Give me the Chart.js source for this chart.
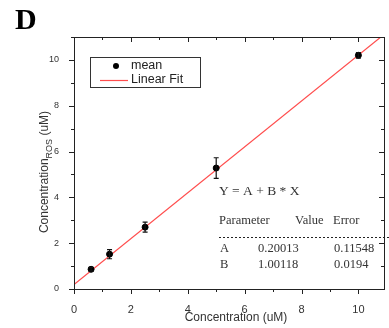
<!DOCTYPE html>
<html>
<head>
<meta charset="utf-8">
<script src="https://cdn.jsdelivr.net/npm/chart.js@4/dist/chart.umd.min.js"></script>
<style>
  html, body { margin: 0; padding: 0; background: #fff; }
  #wrap { width: 389px; height: 328px; position: relative; }
</style>
</head>
<body>
<div id="wrap"><canvas id="c"></canvas></div>
<script>
/* calibration data */
const concX = [0.6, 1.25, 2.5, 5.0, 10.0];
const concMeasured = [0.86, 1.52, 2.7, 5.28, 10.2];
const concErr = [0.08, 0.2, 0.22, 0.45, 0.12];

// linear fit line, end points
const fitX = [0, 10.9];
const fitY = [0.2, 11.11];

const xTickLabels = ['0', '2', '4', '6', '8', '10'];
const yTickLabels = ['0', '2', '4', '6', '8', '10'];

const fitParams = [
  ['A', '0.20013', '0.11548'],
  ['B', '1.00118', '0.0194'],
];

const SANS = '"Liberation Sans", Arial, sans-serif';
const SERIF = '"Liberation Serif", "Times New Roman", serif';
const RED = '#ff4d4d';

/* ---- Plugin: frame, ticks, error bars, legend, annotations ---- */
const panelPlugin = {
  id: 'panel',
  afterDatasetsDraw(chart) {
    const { ctx, chartArea: a, scales } = chart;
    const xs = scales.x, ys = scales.y;
    ctx.save();

    // error bars
    ctx.strokeStyle = '#111';
    ctx.lineWidth = 1.2;
    concX.forEach((x, i) => {
      const px = xs.getPixelForValue(x);
      const top = ys.getPixelForValue(concMeasured[i] + concErr[i]);
      const bot = ys.getPixelForValue(concMeasured[i] - concErr[i]);
      ctx.beginPath();
      ctx.moveTo(px, top); ctx.lineTo(px, bot);
      ctx.moveTo(px - 2.5, top); ctx.lineTo(px + 2.5, top);
      ctx.moveTo(px - 2.5, bot); ctx.lineTo(px + 2.5, bot);
      ctx.stroke();
    });

    // frame
    ctx.strokeStyle = '#222';
    ctx.lineWidth = 1;
    ctx.strokeRect(a.left + 0.5, a.top + 0.5, a.right - a.left, a.bottom - a.top);

    // ticks
    ctx.beginPath();
    for (let v = 0; v <= 11; v++) {
      const major = v % 2 === 0;
      const px = Math.round(xs.getPixelForValue(v)) + 0.5;
      if (px <= a.right) {
        ctx.moveTo(px, a.bottom); ctx.lineTo(px, a.bottom + (major ? 5 : 3));
        ctx.moveTo(px, a.top); ctx.lineTo(px, a.top + (major ? 5 : 3));
      }
      const py = Math.round(ys.getPixelForValue(v)) + 0.5;
      if (py >= a.top) {
        ctx.moveTo(a.left, py); ctx.lineTo(a.left - (major ? 5 : 3), py);
        ctx.moveTo(a.right, py); ctx.lineTo(a.right - (major ? 5 : 3), py);
      }
    }
    ctx.stroke();

    // legend
    ctx.strokeStyle = '#333';
    ctx.strokeRect(90.5, 57.5, 110, 30);
    ctx.fillStyle = '#000';
    ctx.beginPath(); ctx.arc(116, 66, 3, 0, Math.PI * 2); ctx.fill();
    ctx.strokeStyle = RED; ctx.lineWidth = 1.2;
    ctx.beginPath(); ctx.moveTo(100, 80.5); ctx.lineTo(128, 80.5); ctx.stroke();
    ctx.fillStyle = '#222';
    ctx.font = '12.5px ' + SANS;
    ctx.textBaseline = 'middle';
    ctx.textAlign = 'left';
    ctx.fillText('mean', 131, 66);
    ctx.fillText('Linear Fit', 131, 80);

    // fit annotation
    ctx.fillStyle = '#333';
    ctx.font = '13.5px ' + SERIF;
    ctx.fillText('Y = A + B * X', 219, 191);
    ctx.font = '12.5px ' + SERIF;
    ctx.fillText('Parameter', 219, 221);
    ctx.fillText('Value', 295, 221);
    ctx.fillText('Error', 333, 221);
    ctx.strokeStyle = '#222'; ctx.lineWidth = 1;
    ctx.setLineDash([2, 2]);
    ctx.beginPath(); ctx.moveTo(219, 237.5); ctx.lineTo(389, 237.5); ctx.stroke();
    ctx.setLineDash([]);
    fitParams.forEach((row, i) => {
      const y = 249 + i * 16;
      ctx.fillText(row[0], 220, y);
      ctx.fillText(row[1], 258, y);
      ctx.fillText(row[2], 334, y);
    });

    // panel letter
    ctx.fillStyle = '#000';
    ctx.font = 'bold 30px ' + SERIF;
    ctx.fillText('D', 15, 21);

    // axis titles
    ctx.fillStyle = '#333';
    ctx.font = '12px ' + SANS;
    ctx.textAlign = 'center';
    ctx.fillText('Concentration (uM)', (a.left + a.right) / 2 + 7, 318);

    ctx.translate(45, 172);
    ctx.rotate(-Math.PI / 2);
    const main = 'Concentration', sub = 'ROS', tail = ' (uM)';
    ctx.font = '12px ' + SANS;
    const w1 = ctx.measureText(main).width, w3 = ctx.measureText(tail).width;
    ctx.font = '9px ' + SANS;
    const w2 = ctx.measureText(sub).width;
    let x0 = -(w1 + w2 + w3) / 2;
    ctx.textAlign = 'left';
    ctx.font = '12px ' + SANS;
    ctx.fillText(main, x0, 0);
    ctx.font = '9px ' + SANS;
    ctx.fillText(sub, x0 + w1, 5);
    ctx.font = '12px ' + SANS;
    ctx.fillText(tail, x0 + w1 + w2, 0);

    ctx.restore();
  },
};

new Chart(document.getElementById('c'), {
  type: 'scatter',
  data: {
    datasets: [
      {
        label: 'Linear Fit',
        data: fitX.map((x, i) => ({ x, y: fitY[i] })),
        showLine: true,
        borderColor: RED,
        borderWidth: 1.2,
        pointRadius: 0,
        order: 2,
      },
      {
        label: 'mean',
        data: concX.map((x, i) => ({ x, y: concMeasured[i] })),
        backgroundColor: '#000',
        borderColor: '#000',
        pointRadius: 3,
        order: 1,
      },
    ],
  },
  options: {
    responsive: true,
    maintainAspectRatio: false,
    animation: false,
    clip: 0,
    layout: { padding: { top: 37, right: 5, left: 0, bottom: 0 } },
    plugins: { legend: { display: false }, tooltip: { enabled: false } },
    scales: {
      x: {
        type: 'linear', min: 0, max: 10.9,
        afterFit: (s) => { s.height = 39; },
        afterBuildTicks: (s) => { s.ticks = xTickLabels.map((t) => ({ value: Number(t) })); },
        grid: { display: false },
        border: { display: false },
        ticks: {
          padding: 6,
          color: '#333',
          font: { family: SANS, size: 11 },
          callback: (v) => xTickLabels.find((t) => Number(t) === v) ?? '',
        },
      },
      y: {
        type: 'linear', min: 0, max: 11,
        afterFit: (s) => { s.width = 74; },
        afterBuildTicks: (s) => { s.ticks = yTickLabels.map((t) => ({ value: Number(t) })); },
        grid: { display: false },
        border: { display: false },
        ticks: {
          padding: 7,
          color: '#333',
          font: { family: SANS, size: 9 },
          callback: (v) => yTickLabels.find((t) => Number(t) === v) ?? '',
        },
      },
    },
  },
  plugins: [panelPlugin],
});
</script>
</body>
</html>
